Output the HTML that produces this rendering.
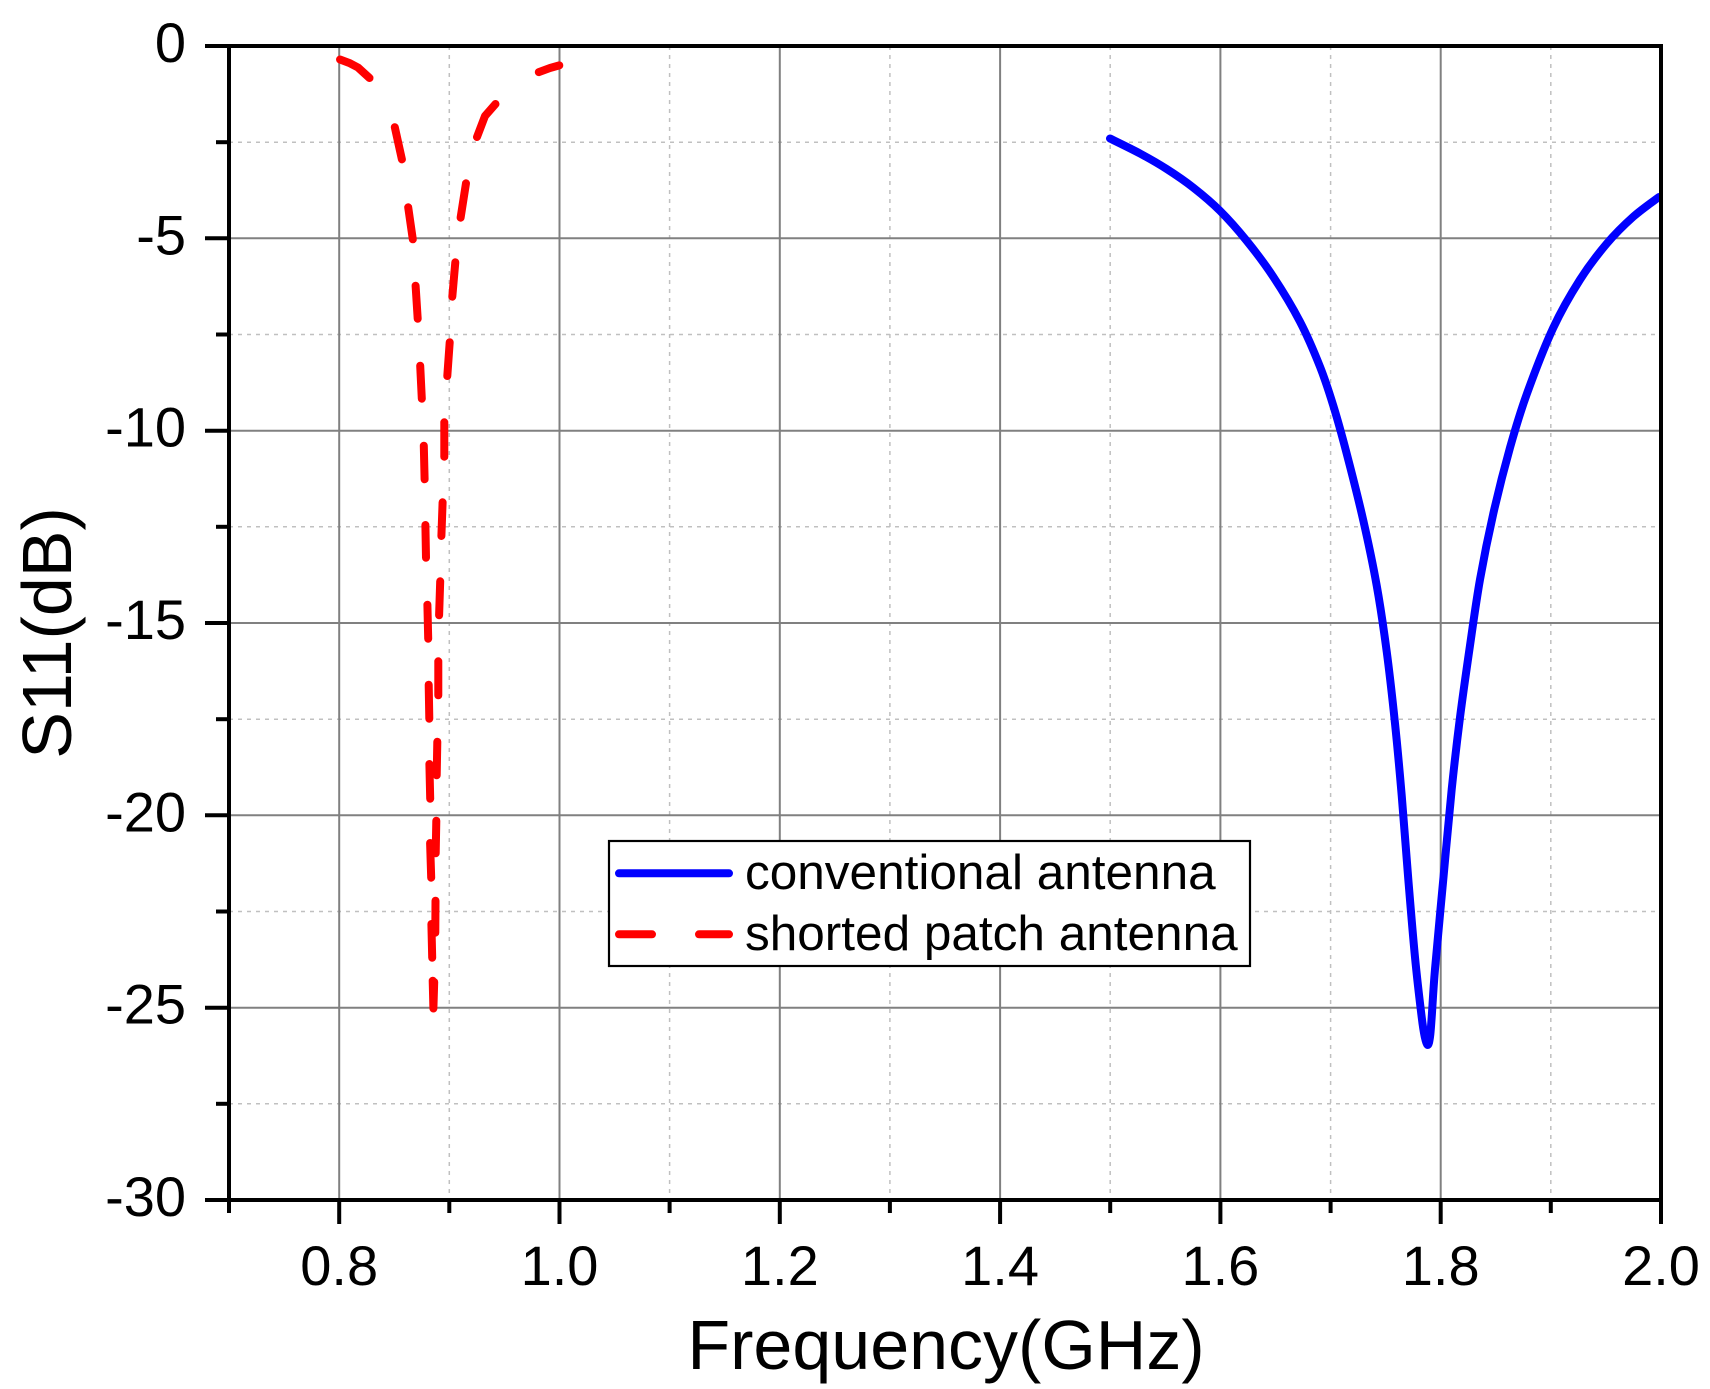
<!DOCTYPE html>
<html>
<head>
<meta charset="utf-8">
<style>
  html, body { margin: 0; padding: 0; background: #ffffff; }
  svg { display: block; }
  text { font-family: "Liberation Sans", Arial, sans-serif; fill: #000; }
</style>
</head>
<body>
<svg id="chart" width="1710" height="1389" viewBox="0 0 1710 1389" xmlns="http://www.w3.org/2000/svg">
  <rect x="0" y="0" width="1710" height="1389" fill="#ffffff"/>

  <!-- minor grid (dashed) -->
  <g stroke="#c0c0c0" stroke-width="1.5" stroke-dasharray="4 5" fill="none">
    <line x1="449.3" y1="46" x2="449.3" y2="1200"/>
    <line x1="669.6" y1="46" x2="669.6" y2="1200"/>
    <line x1="889.9" y1="46" x2="889.9" y2="1200"/>
    <line x1="1110.2" y1="46" x2="1110.2" y2="1200"/>
    <line x1="1330.6" y1="46" x2="1330.6" y2="1200"/>
    <line x1="1550.8" y1="46" x2="1550.8" y2="1200"/>
    <line x1="229" y1="142.2" x2="1661" y2="142.2"/>
    <line x1="229" y1="334.5" x2="1661" y2="334.5"/>
    <line x1="229" y1="526.8" x2="1661" y2="526.8"/>
    <line x1="229" y1="719.2" x2="1661" y2="719.2"/>
    <line x1="229" y1="911.5" x2="1661" y2="911.5"/>
    <line x1="229" y1="1103.8" x2="1661" y2="1103.8"/>
  </g>
  <!-- major grid -->
  <g stroke="#808080" stroke-width="2" fill="none">
    <line x1="339.2" y1="46" x2="339.2" y2="1200"/>
    <line x1="559.5" y1="46" x2="559.5" y2="1200"/>
    <line x1="779.8" y1="46" x2="779.8" y2="1200"/>
    <line x1="1000.1" y1="46" x2="1000.1" y2="1200"/>
    <line x1="1220.4" y1="46" x2="1220.4" y2="1200"/>
    <line x1="1440.7" y1="46" x2="1440.7" y2="1200"/>
    <line x1="229" y1="238.3" x2="1661" y2="238.3"/>
    <line x1="229" y1="430.7" x2="1661" y2="430.7"/>
    <line x1="229" y1="623" x2="1661" y2="623"/>
    <line x1="229" y1="815.3" x2="1661" y2="815.3"/>
    <line x1="229" y1="1007.7" x2="1661" y2="1007.7"/>
  </g>

  <!-- blue curve -->
  <polyline id="blue" fill="none" stroke="#0000ff" stroke-width="8" stroke-linejoin="round" stroke-linecap="round"
    points="1110,138.5 1140,153.5 1166.7,169 1193.3,187.6 1220,210.8 1246.7,240.8 1273.3,276.8 1300,321.7 1320,366.7 1333.3,405.7 1346.7,453.6 1363.3,520.5 1376.7,585.5 1386.7,651.5 1395,723.4 1401.7,795.4 1408.3,879.3 1415,957.2 1421.7,1017.2 1424.8,1037 1427.8,1045 1430,1037 1431.7,1017 1435,969.2 1443.3,879.3 1451.7,789.4 1460,717.4 1470,645.5 1480,579.5 1493.3,513.6 1510,447.7 1526.7,394.3 1553.3,327.7 1580,279.7 1606.7,243.7 1633.3,216.7 1659,197"/>

  <!-- red dashed curve (individual dashes) -->
  <g fill="none" stroke="#ff0000" stroke-width="8" stroke-linecap="round" stroke-linejoin="round">
    <path d="M340,59.5 L350,63.3 L358,67.5 L369.5,78"/>
    <path d="M394.8,127.2 L401.9,159.4"/>
    <path d="M408.2,207.3 L412.8,239.3"/>
    <path d="M415.6,285.7 L417.7,318.7"/>
    <path d="M420.2,365.7 L421.8,398.7"/>
    <path d="M423.8,445.7 L424.6,479.3"/>
    <path d="M425.4,525 L426,557.7"/>
    <path d="M427.4,604.7 L428.2,638.7"/>
    <path d="M428.7,684.7 L429.3,718.7"/>
    <path d="M429.4,764 L430.2,798.7"/>
    <path d="M430.1,843 L431.2,877.7"/>
    <path d="M431.4,924 L432.2,957.7"/>
    <path d="M432.7,980.7 L433.4,1008.5 L434.2,982"/>
    <path d="M435.5,900.7 L435.3,932.7"/>
    <path d="M436.3,820.7 L435.7,853.3"/>
    <path d="M437.3,741.7 L436.7,775.3"/>
    <path d="M438.3,661.3 L438.3,695.3"/>
    <path d="M440.2,581.3 L439.1,615.3"/>
    <path d="M442.6,502.3 L441.4,536"/>
    <path d="M444.3,422.3 L444.3,456.7"/>
    <path d="M449.7,342.3 L447.3,376"/>
    <path d="M455.3,262.3 L452.3,296.7"/>
    <path d="M466,183.3 L460.6,217.7"/>
    <path d="M495.5,104 L485,116 L477,137"/>
    <path d="M538.8,72.1 L550,68 L559.3,65.4"/>
  </g>

  <!-- legend -->
  <rect x="609" y="841" width="641" height="125" fill="#ffffff" stroke="#000" stroke-width="2.2"/>
  <line x1="619" y1="873.3" x2="729" y2="873.3" stroke="#0000ff" stroke-width="8" stroke-linecap="round"/>
  <line x1="619" y1="934.3" x2="652" y2="934.3" stroke="#ff0000" stroke-width="8" stroke-linecap="round"/>
  <line x1="699" y1="934.3" x2="729" y2="934.3" stroke="#ff0000" stroke-width="8" stroke-linecap="round"/>
  <text x="745" y="889" font-size="49.5">conventional antenna</text>
  <text x="745" y="950" font-size="49.5">shorted patch antenna</text>

  <!-- axes frame -->
  <rect x="229" y="46" width="1432" height="1154" fill="none" stroke="#000" stroke-width="4"/>

  <!-- ticks -->
  <g stroke="#000" stroke-width="4">
    <line x1="205" y1="46" x2="229" y2="46"/>
    <line x1="205" y1="238.3" x2="229" y2="238.3"/>
    <line x1="205" y1="430.7" x2="229" y2="430.7"/>
    <line x1="205" y1="623" x2="229" y2="623"/>
    <line x1="205" y1="815.3" x2="229" y2="815.3"/>
    <line x1="205" y1="1007.7" x2="229" y2="1007.7"/>
    <line x1="205" y1="1200" x2="229" y2="1200"/>
    <line x1="216" y1="142.2" x2="229" y2="142.2"/>
    <line x1="216" y1="334.5" x2="229" y2="334.5"/>
    <line x1="216" y1="526.8" x2="229" y2="526.8"/>
    <line x1="216" y1="719.2" x2="229" y2="719.2"/>
    <line x1="216" y1="911.5" x2="229" y2="911.5"/>
    <line x1="216" y1="1103.8" x2="229" y2="1103.8"/>
    <line x1="339.2" y1="1200" x2="339.2" y2="1224"/>
    <line x1="559.5" y1="1200" x2="559.5" y2="1224"/>
    <line x1="779.8" y1="1200" x2="779.8" y2="1224"/>
    <line x1="1000.1" y1="1200" x2="1000.1" y2="1224"/>
    <line x1="1220.4" y1="1200" x2="1220.4" y2="1224"/>
    <line x1="1440.7" y1="1200" x2="1440.7" y2="1224"/>
    <line x1="1661" y1="1200" x2="1661" y2="1224"/>
    <line x1="229" y1="1200" x2="229" y2="1213"/>
    <line x1="449.3" y1="1200" x2="449.3" y2="1213"/>
    <line x1="669.6" y1="1200" x2="669.6" y2="1213"/>
    <line x1="889.9" y1="1200" x2="889.9" y2="1213"/>
    <line x1="1110.2" y1="1200" x2="1110.2" y2="1213"/>
    <line x1="1330.6" y1="1200" x2="1330.6" y2="1213"/>
    <line x1="1550.8" y1="1200" x2="1550.8" y2="1213"/>
  </g>

  <!-- y tick labels -->
  <g font-size="56" text-anchor="end">
    <text x="186" y="62">0</text>
    <text x="186" y="254.3">-5</text>
    <text x="186" y="446.7">-10</text>
    <text x="186" y="639">-15</text>
    <text x="186" y="831.3">-20</text>
    <text x="186" y="1023.7">-25</text>
    <text x="186" y="1216">-30</text>
  </g>
  <!-- x tick labels -->
  <g font-size="56" text-anchor="middle">
    <text x="339.2" y="1285">0.8</text>
    <text x="559.5" y="1285">1.0</text>
    <text x="779.8" y="1285">1.2</text>
    <text x="1000.1" y="1285">1.4</text>
    <text x="1220.4" y="1285">1.6</text>
    <text x="1440.7" y="1285">1.8</text>
    <text x="1661" y="1285">2.0</text>
  </g>

  <!-- axis titles -->
  <text x="946" y="1369" font-size="70" text-anchor="middle">Frequency(GHz)</text>
  <text transform="translate(71,633) rotate(-90)" x="0" y="0" font-size="70" text-anchor="middle">S11(dB)</text>
</svg>
<script>
(function(){
  try {
    var pl = document.getElementById('blue');
    var pts = pl.getAttribute('points').trim().split(/\s+/).map(function(s){
      var a = s.split(','); return [parseFloat(a[0]), parseFloat(a[1])];
    });
    var d = 'M' + pts[0][0] + ',' + pts[0][1];
    for (var i = 0; i < pts.length - 1; i++) {
      var p0 = pts[i-1] || pts[i], p1 = pts[i], p2 = pts[i+1], p3 = pts[i+2] || pts[i+1];
      var c1x = p1[0] + (p2[0]-p0[0])/6, c1y = p1[1] + (p2[1]-p0[1])/6;
      var c2x = p2[0] - (p3[0]-p1[0])/6, c2y = p2[1] - (p3[1]-p1[1])/6;
      d += ' C' + c1x.toFixed(2) + ',' + c1y.toFixed(2) + ' ' + c2x.toFixed(2) + ',' + c2y.toFixed(2) + ' ' + p2[0] + ',' + p2[1];
    }
    var path = document.createElementNS('http://www.w3.org/2000/svg', 'path');
    path.setAttribute('d', d);
    path.setAttribute('fill', 'none');
    path.setAttribute('stroke', '#0000ff');
    path.setAttribute('stroke-width', '8');
    path.setAttribute('stroke-linejoin', 'round');
    path.setAttribute('stroke-linecap', 'round');
    pl.parentNode.replaceChild(path, pl);
  } catch (e) {}
})();
</script>
</body>
</html>
